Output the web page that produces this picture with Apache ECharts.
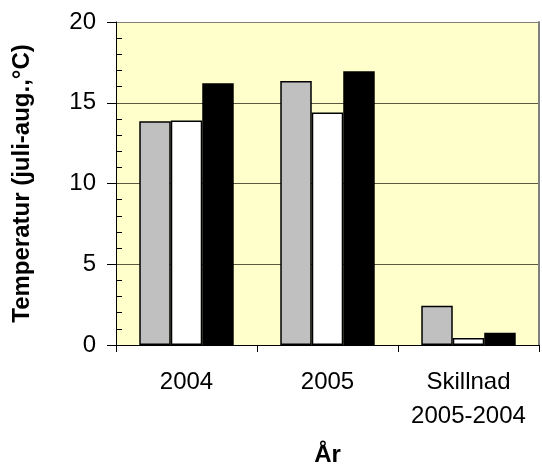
<!DOCTYPE html>
<html><head><meta charset="utf-8">
<script src="https://cdn.jsdelivr.net/npm/echarts@6/dist/echarts.min.js"></script>
<style>html,body{margin:0;padding:0;background:#fff}#c{width:542px;height:475px}</style>
</head><body><div id="c"></div>
<script>
const categories = ['2004', '2005', 'Skillnad\n2005-2004'];
const seriesGray = [13.85, 16.35, 2.43];
const seriesWhite = [13.9, 14.4, 0.43];
const seriesBlack = [16.2, 16.95, 0.76];
const yTicks = [0, 5, 10, 15, 20];

const chart = echarts.init(document.getElementById('c'));
const font = 'Liberation Sans, Arial, sans-serif';
const barStyle = (c) => ({ color: c, borderColor: '#000', borderWidth: 1.5 });
chart.setOption({
  animation: false,
  backgroundColor: '#fff',
  grid: { left: 116, right: 3, top: 22, bottom: 130, show: true, backgroundColor: '#FFFFCC', borderWidth: 0 },
  xAxis: {
    type: 'category', data: categories,
    name: 'År', nameLocation: 'middle', nameGap: 98,
    nameTextStyle: { fontFamily: font, fontSize: 24, fontWeight: 'bold', color: '#000' },
    axisLine: { lineStyle: { color: '#000', width: 1 } },
    axisTick: { show: true, alignWithLabel: false, length: 7, lineStyle: { color: '#000' } },
    axisLabel: { fontFamily: font, fontSize: 24, color: '#000', margin: 20, lineHeight: 34, interval: 0, hideOverlap: false }
  },
  yAxis: [{
    type: 'value', min: yTicks[0], max: yTicks[yTicks.length - 1], interval: 5,
    name: 'Temperatur (juli-aug.,°C)', nameLocation: 'middle', nameGap: 82,
    nameTextStyle: { fontFamily: font, fontSize: 24, fontWeight: 'bold', color: '#000' },
    axisLine: { show: true, lineStyle: { color: '#000', width: 1 } },
    axisTick: { show: true, length: 9, lineStyle: { color: '#000' } },
    minorTick: { show: true, splitNumber: 5, length: -6, lineStyle: { color: '#000' } },
    axisLabel: { fontFamily: font, fontSize: 24, color: '#000', margin: 20 },
    splitLine: { show: true, lineStyle: { color: ['#5a5a40', '#5a5a40', '#5a5a40', '#5a5a40', '#808080'], width: 1 } }
  }, {
    type: 'value', min: 0, max: 20, interval: 5, position: 'right',
    axisLine: { show: true, lineStyle: { color: '#808080', width: 2 } },
    axisTick: { show: false }, axisLabel: { show: false }, splitLine: { show: false }
  }],
  series: [
    { type: 'bar', data: seriesGray, itemStyle: barStyle('#C0C0C0'), barGap: '0%', barCategoryGap: '33%' },
    { type: 'bar', data: seriesWhite, itemStyle: barStyle('#FFFFFF') },
    { type: 'bar', data: seriesBlack, itemStyle: barStyle('#000000') }
  ]
});
</script></body></html>
